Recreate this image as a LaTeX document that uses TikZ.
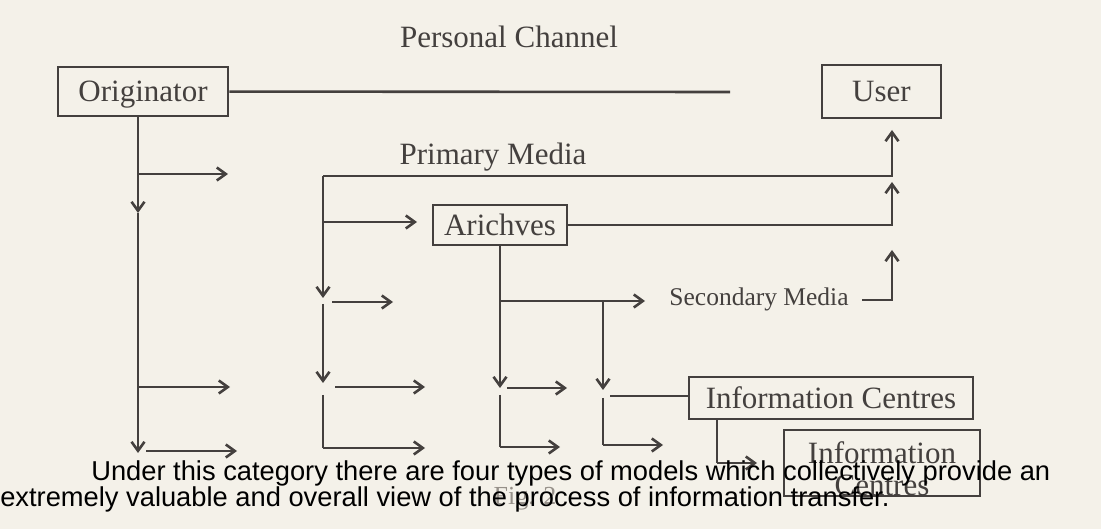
\documentclass[tikz,border=0pt]{standalone}
\usepackage{fontspec}
\setmainfont{Liberation Serif}
\newfontfamily\capfont{Liberation Sans}
\usetikzlibrary{arrows.meta,positioning}
\definecolor{paper}{RGB}{244,241,233}
\definecolor{ink}{RGB}{68,64,62}
\definecolor{faded}{RGB}{150,144,137}

\begin{document}
\begin{tikzpicture}[x=1pt,y=-1pt,->,>={Straight Barb[length=9pt,width=13pt]},line width=2.6pt,color=ink,
    box/.style={rectangle,draw,inner sep=0pt,font=\fontsize{31}{32}\selectfont},
    oneline/.style={text height=21pt,text depth=0pt},
    lbl/.style={anchor=base,font=\fontsize{31}{32}\selectfont},
    captext/.style={anchor=base west,inner sep=0pt,text=black,font=\capfont\fontsize{27.3}{29}\selectfont}]

    \path[use as bounding box,fill=paper] (0,0) rectangle (1101,529);

    \node[box,oneline,minimum width=170,minimum height=49] (orig) at (143,91.5) {Originator};
    \node[box,oneline,minimum width=119,minimum height=53] (user) at (881.5,91.5) {User};
    \node[box,oneline,minimum width=134,minimum height=40] (arch) at (500,225) {Arichves};
    \node[box,oneline,minimum width=284,minimum height=42] (info1) at (831,398) {Information Centres};
    \node[box,minimum width=196,minimum height=66,align=center] (info2) at (882,463) {\rule{0pt}{33pt}Information\\Centres};

    \node[lbl] (personal) at (509,48) {Personal Channel};
    \node[lbl] (primary) at (493,165) {Primary Media};
    \node[lbl,font=\fontsize{25.5}{27}\selectfont] (secondary) at (759,306) {Secondary Media};
    \node[lbl,text=faded,font=\fontsize{26}{28}\selectfont] (fig) at (525,504) {Fig. 2};

    % free ends
    \coordinate (pcEnd) at (730,92);
    \coordinate (v1mid) at (138,213);
    \coordinate (v1end) at (138,453);
    \coordinate (o1) at (228,174);
    \coordinate (o2) at (230,387);
    \coordinate (o3a) at (146,451);
    \coordinate (o3b) at (237,451);
    \coordinate (pm) at (323,176);
    \coordinate (up) at (892,130);
    \coordinate (upArch) at (892,182);
    \coordinate (upSec) at (892,250);
    \coordinate (toArch) at (417,222);
    \coordinate (p1) at (323,298);
    \coordinate (p1b) at (323,304);
    \coordinate (p2) at (323,383);
    \coordinate (p2b) at (323,395);
    \coordinate (p3) at (323,448);
    \coordinate (p3e) at (425,448);
    \coordinate (q1a) at (332,302);
    \coordinate (q1b) at (393,302);
    \coordinate (q2a) at (335,387);
    \coordinate (q2b) at (425,387);
    \coordinate (a1) at (500,301);
    \coordinate (a1e) at (645,301);
    \coordinate (a2) at (500,388);
    \coordinate (a2b) at (500,395);
    \coordinate (a3) at (500,447);
    \coordinate (a3e) at (560,447);
    \coordinate (r1a) at (507,388);
    \coordinate (r1b) at (567,388);
    \coordinate (s1) at (603,301);
    \coordinate (s2) at (603,390);
    \coordinate (s2b) at (603,398);
    \coordinate (s3) at (603,445);
    \coordinate (s3e) at (663,445);
    \coordinate (s4) at (610,396);
    \coordinate (i1) at (717,463);
    \coordinate (i1e) at (757,463);

    \draw[-] (orig) -- (pcEnd);
    \draw (orig.south -| v1mid) -- (v1mid);
    \draw (v1mid) -- (v1end);
    \draw (v1mid |- o1) -- (o1);
    \draw (v1mid |- o2) -- (o2);
    \draw (o3a) -- (o3b);

    \draw (pm) -- (pm -| up) -- (up);
    \draw (arch) -- (arch -| up) -- (upArch);
    \draw ([xshift=9pt]secondary.east) -- (secondary.east -| up) -- (upSec);

    \draw (pm |- toArch) -- (toArch);
    \draw (pm) -- (p1);
    \draw (p1b) -- (p2);
    \draw[-] (p2b) -- (p3);
    \draw (p3) -- (p3e);
    \draw (q1a) -- (q1b);
    \draw (q2a) -- (q2b);

    \draw (arch.south -| a1) -- (a2);
    \draw[-] (a2b) -- (a3);
    \draw (a3) -- (a3e);
    \draw (a1) -- (a1e);
    \draw (r1a) -- (r1b);

    \draw (s1) -- (s2);
    \draw[-] (s2b) -- (s3);
    \draw (s3) -- (s3e);
    \draw[-] (s4) -- (info1.west |- s4);
    \draw[-] (info1.south -| i1) -- (i1);
    \draw (i1) -- (i1e);

    \node[captext] (cap1) at (90,480) {Under this category there are four types of models which collectively provide an};
    \node[captext] (cap2) at (-1,506) {extremely valuable and overall view of the process of information transfer.};
\end{tikzpicture}
\end{document}
